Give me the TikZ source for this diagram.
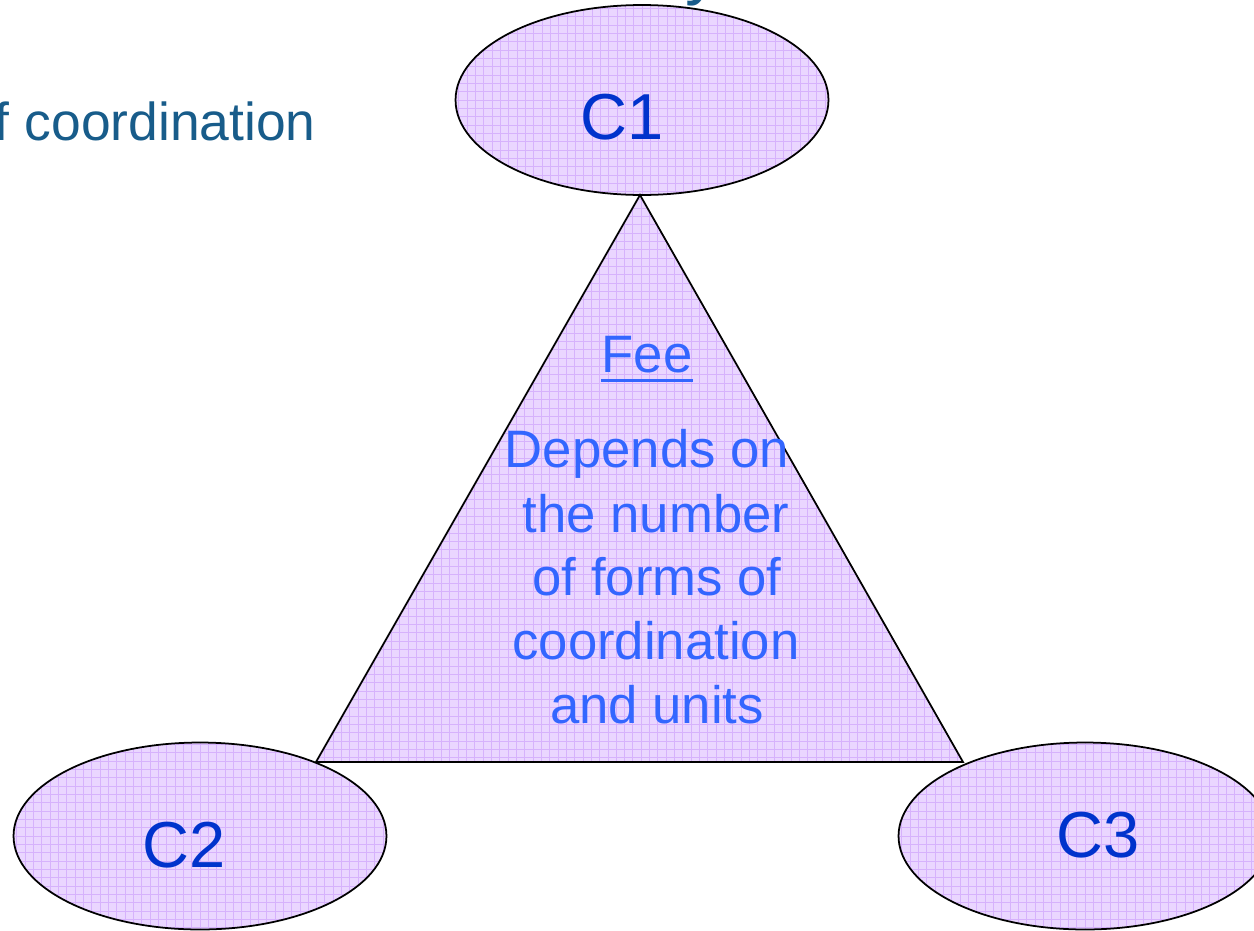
\documentclass[tikz,border=0pt]{standalone}
\usepackage{fontspec}
\setmainfont{Liberation Sans}
\usetikzlibrary{shapes.geometric}
\definecolor{teal1}{RGB}{24,92,138}
\definecolor{cblue}{RGB}{0,51,204}
\definecolor{tblue}{RGB}{51,102,255}
\definecolor{lav}{RGB}{234,214,255}
\definecolor{lavgrid}{RGB}{214,178,252}
\begin{document}
\begin{tikzpicture}[x=0.02cm,y=-0.02cm,
  gridfill/.style={fill=lav, path picture={\draw[lavgrid, line width=0.5pt]
      (path picture bounding box.south west) grid[step=4.74pt] (path picture bounding box.north east);}},
  outline/.style={draw=black, line width=1pt},
  blob/.style={ellipse, outline, gridfill, minimum width=7.46cm, minimum height=3.74cm, inner sep=0pt},
  ctext/.style={text=cblue, font=\fontsize{37pt}{37pt}\selectfont, anchor=base, inner sep=0pt},
  ttext/.style={text=tblue, font=\fontsize{30pt}{30pt}\selectfont, anchor=base, inner sep=0pt},
  headtext/.style={text=teal1, inner sep=0pt}]
\useasboundingbox (0,0) rectangle (1254,930);
\clip (0,0) rectangle (1254,930);
\fill[white] (0,0) rectangle (1254,930);

% partial title letter and subtitle
\node[headtext, font=\fontsize{40pt}{40pt}\selectfont, anchor=base west] (ttl) at (685,-9) {y};
\node[headtext, font=\fontsize{30.4pt}{30.4pt}\selectfont, anchor=base east] (sub) at (316,140) {f coordination};

% ellipses
\node[blob, minimum height=3.8cm] (c1) at (642,100) {};
\node[blob] (c2) at (200,836) {};
\node[blob] (c3) at (1085,836) {};

% triangle
\coordinate (apex) at (640,195);
\coordinate (bl) at (316,762);
\coordinate (br) at (963,762);
\draw[outline, gridfill, line join=miter] (apex) -- (bl) -- (br) -- cycle;

% ellipse labels
\node[ctext] (c1t) at (622,139) {C1};
\node[ctext] (c2t) at (184,867) {C2};
\node[ctext] (c3t) at (1098,857) {C3};

% triangle text
\node[ttext] (fee) at (647,372) {Fee};
\draw[tblue, line width=1.7pt] ([yshift=-4.6pt]fee.base west) -- ([yshift=-4.6pt]fee.base east);
\node[ttext] (l1) at (647,467) {Depends on};
\node[ttext] (l2) at (656,532) {the number};
\node[ttext] (l3) at (657,595) {of forms of};
\node[ttext] (l4) at (656,659) {coordination};
\node[ttext] (l5) at (657,723) {and units};
\end{tikzpicture}
\end{document}
